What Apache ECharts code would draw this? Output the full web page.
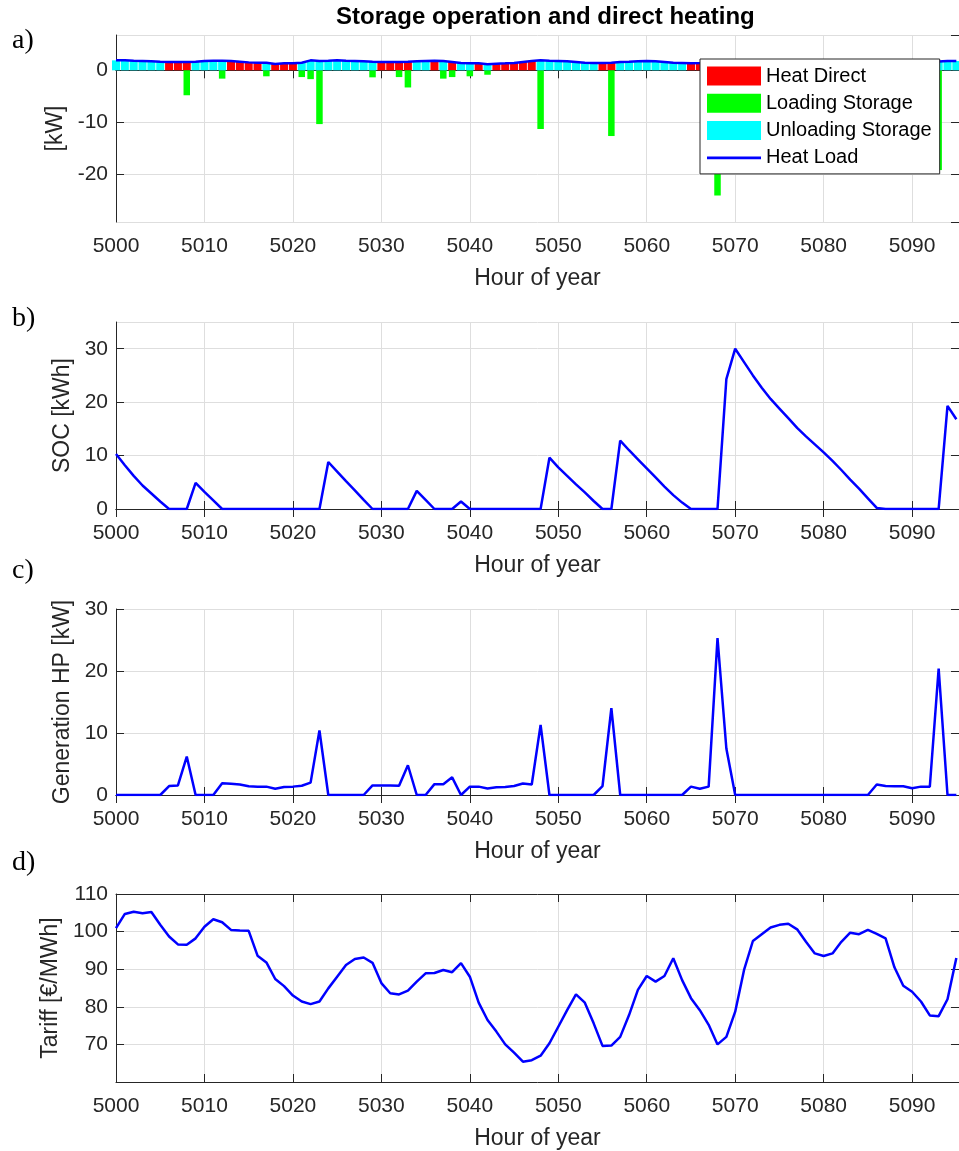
<!DOCTYPE html>
<html><head><meta charset="utf-8">
<script src="https://cdn.jsdelivr.net/npm/echarts@6/dist/echarts.min.js"></script>
<style>html,body{margin:0;padding:0;background:#fff}#c{width:959px;height:1151px}</style>
</head><body><div id="c"></div><script>
const hours = [5000,5001,5002,5003,5004,5005,5006,5007,5008,5009,5010,5011,5012,5013,5014,5015,5016,5017,5018,5019,5020,5021,5022,5023,5024,5025,5026,5027,5028,5029,5030,5031,5032,5033,5034,5035,5036,5037,5038,5039,5040,5041,5042,5043,5044,5045,5046,5047,5048,5049,5050,5051,5052,5053,5054,5055,5056,5057,5058,5059,5060,5061,5062,5063,5064,5065,5066,5067,5068,5069,5070,5071,5072,5073,5074,5075,5076,5077,5078,5079,5080,5081,5082,5083,5084,5085,5086,5087,5088,5089,5090,5091,5092,5093,5094,5095];
const heatDirect = [0,0,0,0,0,0,1.6,1.6,1.6,0,0, 0,0,1.79,1.66,1.53,1.47,0,1.21,1.34,1.34, 0,0,0,0,0,0,0,0,0,1.6, 1.6,1.6,1.66,0,0,1.85,0,1.6,0,0, 1.34,0,1.28,1.34,1.41,1.6,1.79,0,0,0, 0,0,0,0,1.41,1.47,0,0,0,0, 0,0,0,0,1.34,1.41,1.5,1.6,0,0, 0,0,0,0,0,0,0,0,0,0, 0,0,0,0,0,1.7,1.45,1.4,1.4,1.1, 1.35,1.35,0,0,0];
const unloadingStorage = [1.92,1.92,1.85,1.79,1.73,1.66,0,0,0,1.66,1.79, 1.85,1.85,0,0,0,0,1.47,0,0,0, 1.47,1.92,1.79,1.85,1.92,1.85,1.79,1.73,1.66,0, 0,0,0,1.73,1.79,0,1.79,0,1.41,1.34, 0,1.15,0,0,0,0,0,1.92,1.85,1.79, 1.73,1.6,1.47,1.41,0,0,1.6,1.66,1.73,1.79, 1.73,1.6,1.47,1.41,0,0,0,0,1.7,1.8, 1.9,1.9,1.8,1.7,1.6,1.5,1.5,1.6,1.7,1.8, 1.8,1.7,1.6,1.5,1.6,0,0,0,0,0, 0,0,1.7,1.8,1.8];
const loadingStorage = [0,0,0,0,0,0,0,0,-4.8,0,0, 0,-1.6,0,0,0,0,-1.15,0,0,0, -1.3,-1.7,-10.35,0,0,0,0,0,-1.35,0, 0,-1.3,-3.3,0,0,0,-1.6,-1.3,0,-1.15, 0,-0.85,0,0,0,0,0,-11.3,0,0, 0,0,0,0,0,-12.65,0,0,0,0, 0,0,0,0,0,0,0,-24.1,-5.8,0, 0,0,0,0,0,0,0,0,0,0, 0,0,0,0,0,0,0,0,0,0, 0,0,-19.2,0,0];
const heatLoad = [1.92,1.92,1.85,1.79,1.73,1.66,1.6,1.6,1.6,1.66,1.79, 1.85,1.85,1.79,1.66,1.53,1.47,1.47,1.21,1.34,1.34, 1.47,1.92,1.79,1.85,1.92,1.85,1.79,1.73,1.66,1.6, 1.6,1.6,1.66,1.73,1.79,1.85,1.79,1.6,1.41,1.34, 1.34,1.15,1.28,1.34,1.41,1.6,1.79,1.92,1.85,1.79, 1.73,1.6,1.47,1.41,1.41,1.47,1.6,1.66,1.73,1.79, 1.73,1.6,1.47,1.41,1.34,1.41,1.5,1.6,1.7,1.8, 1.9,1.9,1.8,1.7,1.6,1.5,1.5,1.6,1.7,1.8, 1.8,1.7,1.6,1.5,1.6,1.7,1.45,1.4,1.4,1.1, 1.35,1.35,1.7,1.8,1.8];
const soc = [10.3,8.2,6.2,4.4,2.9,1.4,0,0,0,4.9,3.2, 1.6,0,0,0,0,0,0,0,0,0, 0,0,0,8.8,7.0,5.2,3.5,1.7,0,0, 0,0,0,3.4,1.7,0,0,0,1.4,0, 0,0,0,0,0,0,0,0,9.6,7.8, 6.2,4.6,3.1,1.5,0,0,12.8,11.0,9.3,7.6, 5.9,4.2,2.6,1.2,0,0,0,0,24.3,30, 27.5,25.0,22.7,20.6,18.8,17.0,15.2,13.6,12.1,10.6, 9.0,7.3,5.5,3.8,2.0,0.2,0,0,0,0, 0,0,0,19.3,16.8];
const generationHP = [0,0,0,0,0,0,1.45,1.55,6.2,0,0, 0,1.9,1.8,1.7,1.4,1.35,1.35,1.0,1.3,1.35, 1.5,2.0,10.4,0,0,0,0,0,1.55,1.55, 1.55,1.5,4.8,0,0,1.75,1.75,2.85,0,1.35, 1.35,1.05,1.25,1.3,1.45,1.85,1.7,11.3,0,0, 0,0,0,0,1.45,14.0,0,0,0,0, 0,0,0,0,1.35,1.0,1.35,25.3,7.5,0, 0,0,0,0,0,0,0,0,0,0, 0,0,0,0,0,1.7,1.45,1.4,1.4,1.1, 1.35,1.35,20.4,0,0];
const tariff = [100.9,104.7,105.3,104.9,105.2,101.8,98.7,96.6,96.5,98.2,101.3, 103.3,102.5,100.45,100.3,100.2,93.6,91.8,87.4,85.5,83.0, 81.4,80.7,81.4,84.9,88.0,91.1,92.7,93.1,91.7,86.3, 83.6,83.3,84.3,86.7,88.9,89.0,89.8,89.2,91.6,88.0, 81.1,76.5,73.4,70.0,67.8,65.4,65.8,67.0,70.3,74.7, 79.1,83.3,81.1,75.6,69.6,69.7,72.0,77.8,84.5,88.2, 86.7,88.2,92.9,87.1,82.3,79.1,75.2,70.0,72.0,78.7, 89.8,97.5,99.3,101.1,101.8,102.1,100.6,97.3,94.2,93.5, 94.2,97.3,99.7,99.3,100.45,99.4,98.2,90.5,85.6,84.0, 81.4,77.7,77.5,82.0,93.0];
const legendNames = ['Heat Direct','Loading Storage','Unloading Storage','Heat Load'];

const FONT = "'Liberation Sans', Arial, Helvetica, sans-serif";
const SERIF = "'Liberation Serif', 'Times New Roman', serif";
const AX = '#262626';
const GRIDC = '#dedede';
const XMIN = 5000, XMAX = 5095.3;

const grids = [
  {left:116, top:35, width:844, height:187},
  {left:116, top:322, width:844, height:187},
  {left:116, top:609, width:844, height:186},
  {left:116, top:894, width:844, height:188}
];
const yCfg = [
  {min:-29.2, max:6.8, splitNumber:4, name:'[kW]', gap:48, hideMin:true, hideMax:true},
  {min:0, max:35, interval:10, name:'SOC [kWh]', gap:42, hideMin:false, hideMax:true},
  {min:0, max:30, interval:10, name:'Generation HP [kW]', gap:42, hideMin:false, hideMax:false},
  {min:60, max:110, interval:10, name:'Tariff [€/MWh]', gap:54, hideMin:true, hideMax:false}
];

const xAxes = [], yAxes = [];
grids.forEach((g,i)=>{
  xAxes.push({gridIndex:i, type:'value', min:XMIN, max:XMAX, interval:10, position:'bottom',
    name:'Hour of year', nameLocation:'middle', nameGap:45,
    nameTextStyle:{fontFamily:FONT, fontSize:23, color:AX},
    axisLine:{lineStyle:{color:AX, width:1}}, axisTick:{inside:true, length:8, lineStyle:{color:AX}},
    axisLabel:{fontFamily:FONT, fontSize:21, color:AX, margin:14, showMaxLabel:false, formatter: v => String(v)},
    splitLine:{show:true, lineStyle:{color:GRIDC, width:1}}});
  xAxes.push({gridIndex:i, type:'value', min:XMIN, max:XMAX, interval:10, position:'top',
    axisLine:{lineStyle:{color:AX, width:1}}, axisTick:{inside:true, length:8, lineStyle:{color:AX}},
    axisLabel:{show:false}, splitLine:{show:false}});
  const c = yCfg[i];
  const base = {gridIndex:i, type:'value', min:c.min, max:c.max};
  if (c.interval) base.interval = c.interval; else base.splitNumber = c.splitNumber;
  yAxes.push(Object.assign({}, base, {position:'left',
    name:c.name, nameLocation:'middle', nameGap:c.gap, nameRotate:90,
    nameTextStyle:{fontFamily:FONT, fontSize:23, color:AX},
    axisLine:{show:true, lineStyle:{color:AX, width:1}}, axisTick:{show:true, inside:true, length:8, lineStyle:{color:AX}},
    axisLabel:{fontFamily:FONT, fontSize:21, color:AX, margin:8, showMinLabel:!c.hideMin, showMaxLabel:!c.hideMax, formatter: v => String(v)},
    splitLine:{show:true, lineStyle:{color:GRIDC, width:1}}}));
  yAxes.push(Object.assign({}, base, {position:'right',
    axisLine:{show:true, lineStyle:{color:AX, width:1}}, axisTick:{show:true, inside:true, length:8, lineStyle:{color:AX}},
    axisLabel:{show:false}, splitLine:{show:false}}));
});
// extra hidden x axis for the narrower loading bars in panel a
xAxes.push({gridIndex:0, type:'value', min:XMIN, max:XMAX, show:false});

const pts = arr => hours.map((h,i)=>[h, arr[i]]);
const lineStyle = {color:'#0000ff', width:2.5};
const lineIcon = 'path://M0,0 M54,19 M0,8.2 L54,8.2 L54,10.8 L0,10.8 Z';

const option = {
  animation:false,
  backgroundColor:'#fff',
  grid: grids,
  xAxis: xAxes,
  yAxis: yAxes,
  legend: {
    left:700, top:59, orient:'vertical', itemWidth:54, itemHeight:19, itemGap:7.3,
    padding:[7,8,6,7], backgroundColor:'#fff', borderColor:AX, borderWidth:1,
    textStyle:{fontFamily:FONT, fontSize:20, color:'#000'},
    data:[
      {name:legendNames[0], icon:'rect'},
      {name:legendNames[1], icon:'rect'},
      {name:legendNames[2], icon:'rect'},
      {name:legendNames[3], icon:lineIcon}
    ],
    selectedMode:false, z:20
  },
  graphic: [
    {type:'text', left:336, top:5, style:{text:'Storage operation and direct heating', fontFamily:FONT, fontSize:24, fontWeight:'bold', fill:'#000'}},
    {type:'text', left:12, top:27, style:{text:'a)', fontFamily:SERIF, fontSize:28, fill:'#000'}},
    {type:'text', left:12, top:305, style:{text:'b)', fontFamily:SERIF, fontSize:28, fill:'#000'}},
    {type:'text', left:12, top:557, style:{text:'c)', fontFamily:SERIF, fontSize:28, fill:'#000'}},
    {type:'text', left:12, top:849, style:{text:'d)', fontFamily:SERIF, fontSize:28, fill:'#000'}}
  ],
  series: [
    {name:legendNames[0], type:'bar', xAxisIndex:0, yAxisIndex:0, stack:'pos', barWidth:8, data:pts(heatDirect), itemStyle:{color:'#ff0000'}},
    {name:legendNames[1], type:'bar', xAxisIndex:8, yAxisIndex:0, barWidth:6.5, data:pts(loadingStorage), itemStyle:{color:'#00ff00'}},
    {name:legendNames[2], type:'bar', xAxisIndex:0, yAxisIndex:0, stack:'pos', barWidth:8, data:pts(unloadingStorage), itemStyle:{color:'#00ffff'}},
    {name:legendNames[3], type:'line', xAxisIndex:0, yAxisIndex:0, data:pts(heatLoad), symbol:'none', lineStyle:lineStyle, itemStyle:{color:'#0000ff'}, z:5},
    {name:'SOC', type:'line', xAxisIndex:2, yAxisIndex:2, data:pts(soc), symbol:'none', lineStyle:lineStyle, itemStyle:{color:'#0000ff'}},
    {name:'Generation HP', type:'line', xAxisIndex:4, yAxisIndex:4, data:pts(generationHP), symbol:'none', lineStyle:lineStyle, itemStyle:{color:'#0000ff'}},
    {name:'Tariff', type:'line', xAxisIndex:6, yAxisIndex:6, data:pts(tariff), symbol:'none', lineStyle:lineStyle, itemStyle:{color:'#0000ff'}}
  ]
};
const chart = echarts.init(document.getElementById('c'), null, {renderer:'canvas'});
chart.setOption(option);
</script></body></html>
